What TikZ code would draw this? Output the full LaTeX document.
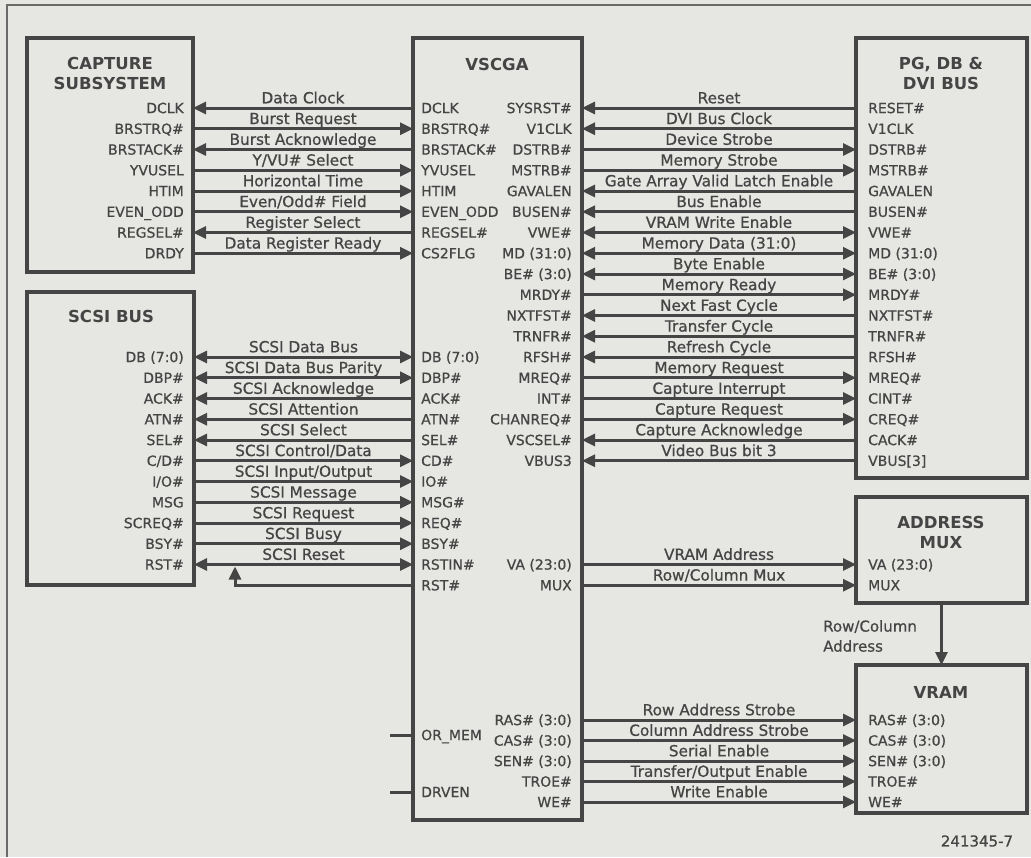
\documentclass[tikz,border=0pt]{standalone}
\usepackage{fontspec}
\setmainfont{DejaVu Sans}
\newfontfamily\medfam{DejaVu Sans}[FakeBold=0.7]
\usetikzlibrary{arrows.meta}
\definecolor{ink}{HTML}{454545}
\definecolor{paper}{HTML}{E6E6E3}
\begin{document}
\begin{tikzpicture}[x=1pt,y=-1pt,
  >={Triangle[length=13pt,width=12pt]},
  box/.style={draw=ink, line width=4pt, inner sep=0pt, outer sep=0pt, anchor=north west},
  sig/.style={draw=ink, line width=3pt},
  frm/.style={draw=ink!80, line width=1.8pt},
  pinf/.style={font=\medfam\fontsize{14}{16}\selectfont, text=ink, inner sep=0pt, text height=10.2pt, text depth=0pt},
  lab/.style={font=\medfam\fontsize{15.3}{17}\selectfont, text=ink, inner sep=0pt, anchor=base, yshift=4.7pt},
  ttl/.style={font=\bfseries\fontsize{16.5}{20}\selectfont, text=ink, align=center, inner sep=0pt},
  note/.style={font=\medfam\fontsize{15}{20}\selectfont, text=ink, inner sep=0pt},
]
\useasboundingbox (0,0) rectangle (1031,857);
\fill[paper] (0,0) rectangle (1031,857);
\draw[frm] (7,857) -- (7,5) -- (1031,5);

% boxes
\node[box, minimum width=166pt, minimum height=234pt] (cap) at (27,38) {};
\node[box, minimum width=167pt, minimum height=293pt] (scsi) at (27,292) {};
\node[box, minimum width=169pt, minimum height=782pt] (vs) at (413,38) {};
\node[box, minimum width=171pt, minimum height=440pt] (pg) at (856,38) {};
\node[box, minimum width=171pt, minimum height=106pt] (amux) at (856,497) {};
\node[box, minimum width=171pt, minimum height=148pt] (vram) at (856,665) {};

% titles
\node[ttl] (capT) at (110,73) {CAPTURE\\SUBSYSTEM};
\node[ttl] (scsiT) at (111,316) {SCSI BUS};
\node[ttl] (vsT) at (497,64) {VSCGA};
\node[ttl] (pgT) at (941,73) {PG, DB \&\\DVI BUS};
\node[ttl] (amuxT) at (941,532) {ADDRESS\\MUX};
\node[ttl] (vramT) at (941,692) {VRAM};

% capture <-> VSCGA
\foreach \i/\pa/\pb/\lab/\dir in {
0/DCLK/DCLK/Data Clock/<-,
1/BRSTRQ\#/BRSTRQ\#/Burst Request/->,
2/BRSTACK\#/BRSTACK\#/Burst Acknowledge/<-,
3/YVUSEL/YVUSEL/{Y/VU\# Select}/->,
4/HTIM/HTIM/Horizontal Time/->,
5/EVEN\_ODD/EVEN\_ODD/{Even/Odd\# Field}/->,
6/REGSEL\#/REGSEL\#/Register Select/<-,
7/DRDY/CS2FLG/Data Register Ready/->}{
  \node[pinf, anchor=east] (cpa\i) at (184,{108+20.75*\i}) {\pa};
  \node[pinf, anchor=west] (cpb\i) at (421,{108+20.75*\i}) {\pb};
  \draw[sig,\dir] (cap.east |- cpa\i) -- (vs.west |- cpa\i) node[lab, midway] {\lab};
}

% VSCGA <-> PG bus
\foreach \i/\pa/\pb/\lab/\dir in {
0/SYSRST\#/RESET\#/Reset/<-,
1/V1CLK/V1CLK/DVI Bus Clock/<-,
2/DSTRB\#/DSTRB\#/Device Strobe/->,
3/MSTRB\#/MSTRB\#/Memory Strobe/->,
4/GAVALEN/GAVALEN/Gate Array Valid Latch Enable/<-,
5/BUSEN\#/BUSEN\#/Bus Enable/<-,
6/VWE\#/VWE\#/VRAM Write Enable/<->,
7/MD (31:0)/MD (31:0)/Memory Data (31:0)/<->,
8/BE\# (3:0)/BE\# (3:0)/Byte Enable/<->,
9/MRDY\#/MRDY\#/Memory Ready/->,
10/NXTFST\#/NXTFST\#/Next Fast Cycle/<-,
11/TRNFR\#/TRNFR\#/Transfer Cycle/<-,
12/RFSH\#/RFSH\#/Refresh Cycle/<-,
13/MREQ\#/MREQ\#/Memory Request/->,
14/INT\#/CINT\#/Capture Interrupt/->,
15/CHANREQ\#/CREQ\#/Capture Request/->,
16/VSCSEL\#/CACK\#/Capture Acknowledge/<-,
17/VBUS3/VBUS[3]/Video Bus bit 3/<-}{
  \node[pinf, anchor=east] (vr\i) at (572,{108+20.75*\i}) {\pa};
  \node[pinf, anchor=west] (pg\i) at (868,{108+20.75*\i}) {\pb};
  \draw[sig,\dir] (vs.east |- vr\i) -- (pg.west |- vr\i) node[lab, midway] {\lab};
}

% SCSI <-> VSCGA
\foreach \i/\pa/\pb/\lab/\dir in {
12/DB (7:0)/DB (7:0)/SCSI Data Bus/<->,
13/DBP\#/DBP\#/SCSI Data Bus Parity/<->,
14/ACK\#/ACK\#/SCSI Acknowledge/<-,
15/ATN\#/ATN\#/SCSI Attention/<-,
16/SEL\#/SEL\#/SCSI Select/<-,
17/{C/D\#}/CD\#/{SCSI Control/Data}/->,
18/{I/O\#}/IO\#/{SCSI Input/Output}/->,
19/MSG/MSG\#/SCSI Message/->,
20/SCREQ\#/REQ\#/SCSI Request/->,
21/BSY\#/BSY\#/SCSI Busy/->,
22/RST\#/RSTIN\#/SCSI Reset/<->}{
  \node[pinf, anchor=east] (sp\i) at (184,{108+20.75*\i}) {\pa};
  \node[pinf, anchor=west] (vl\i) at (421,{108+20.75*\i}) {\pb};
  \draw[sig,\dir] (scsi.east |- sp\i) -- (vs.west |- sp\i) node[lab, midway] {\lab};
}
\node[pinf, anchor=west] (vlrst) at (421,{108+20.75*23}) {RST\#};
\coordinate (rstjoin) at (235,566.5);
\draw[sig,->] (vs.west |- vlrst) -| (rstjoin);

% VSCGA -> address mux
\foreach \i/\pa/\lab in {22/VA (23:0)/VRAM Address, 23/MUX/{Row/Column Mux}}{
  \node[pinf, anchor=east] (vr\i) at (572,{108+20.75*\i}) {\pa};
  \node[pinf, anchor=west] (am\i) at (868,{108+20.75*\i}) {\pa};
  \draw[sig,->] (vs.east |- vr\i) -- (amux.west |- vr\i) node[lab, midway] {\lab};
}

% address mux -> VRAM
\draw[sig,->] (amux.south) -- (vram.north);
\node[note, anchor=west, align=left] (rca) at (823,636) {Row/Column\\Address};

% VSCGA -> VRAM
\foreach \j/\pa/\lab in {
0/RAS\# (3:0)/Row Address Strobe,
1/CAS\# (3:0)/Column Address Strobe,
2/SEN\# (3:0)/Serial Enable,
3/TROE\#/{Transfer/Output Enable},
4/WE\#/Write Enable}{
  \node[pinf, anchor=east] (vm\j) at (572,{720+20.5*\j}) {\pa};
  \node[pinf, anchor=west] (vp\j) at (868,{720+20.5*\j}) {\pa};
  \draw[sig,->] (vs.east |- vm\j) -- (vram.west |- vm\j) node[lab, midway] {\lab};
}

% extra inputs on VSCGA
\node[pinf, anchor=west] (ormem) at (421,735) {OR\_MEM};
\coordinate (ormemin) at (390,735);
\draw[sig] (ormemin) -- (vs.west |- ormem);
\node[pinf, anchor=west] (drven) at (421,792) {DRVEN};
\coordinate (drvenin) at (390,792);
\draw[sig] (drvenin) -- (vs.west |- drven);

\node[note] (fig) at (977,841) {241345-7};
\end{tikzpicture}
\end{document}
